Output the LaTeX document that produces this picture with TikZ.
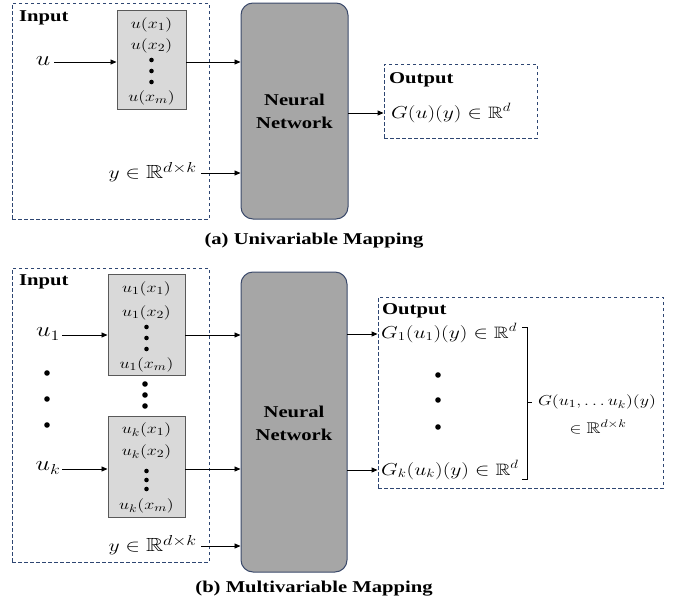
\documentclass[tikz,border=0pt]{standalone}
\usepackage{amsmath,amssymb}
\usepackage{fontspec}
\setmainfont{Liberation Serif}
\usetikzlibrary{arrows.meta}
\newcommand{\sx}[1]{\scalebox{1.25}[1]{#1}}
\definecolor{dashblue}{HTML}{2E4672}
\definecolor{nnfill}{HTML}{A6A6A6}
\definecolor{nnedge}{HTML}{3B4A6B}
\definecolor{boxfill}{HTML}{D9D9D9}
\definecolor{boxedge}{HTML}{595959}
\tikzset{
  dbox/.style={draw=dashblue, dash pattern=on 3.5pt off 2.5pt, line width=0.9pt},
  nnbox/.style={draw=nnedge, fill=nnfill, rounded corners=12pt, line width=1pt, inner sep=0pt},
  vbox/.style={draw=boxedge, fill=boxfill, line width=1pt, inner sep=0pt},
  head/.style={font=\fontsize{16.5}{18}\selectfont\bfseries, inner sep=0pt},
  nntext/.style={font=\fontsize{16.5}{23}\selectfont\bfseries, inner sep=0pt, align=center},
  mt/.style={font=\fontsize{15.5}{17}\selectfont, inner sep=0pt},
  bigm/.style={font=\fontsize{16.5}{19}\selectfont, inner sep=0pt},
  smm/.style={font=\fontsize{15.5}{17}\selectfont, inner sep=0pt},
  lbl/.style={font=\fontsize{20}{22}\selectfont, inner sep=0pt},
  ylbl/.style={font=\fontsize{19}{21}\selectfont, inner sep=0pt},
  arr/.style={-{Triangle[length=6pt,width=5pt]}, line width=0.9pt},
}
\begin{document}
\begin{tikzpicture}[x=1pt,y=-1pt]
\useasboundingbox (0,0) rectangle (681,600);
% ---------- (a) ----------
\node[dbox, minimum width=197pt, minimum height=216pt, inner sep=0pt] (in1) at (110.5,111) {};
\node[head, anchor=west] (inl1) at (19,18) {\sx{Input}};
\node[vbox, minimum width=69pt, minimum height=99pt] (ub1) at (151.5,59.5) {};
\node[mt] (a1) at (151.5,25) {\sx{$u(x_1)$}};
\node[mt] (a2) at (151.5,46) {\sx{$u(x_2)$}};
\fill (151.5,60) circle (2.3pt);
\fill (151.5,71) circle (2.3pt);
\fill (151.5,82) circle (2.3pt);
\node[mt] (am) at (151.5,98) {\sx{$u(x_m)$}};
\node[lbl] (u) at (43,61) {\sx{$u$}};
\node[nnbox, minimum width=107pt, minimum height=216pt] (nn1) at (294.5,111) {};
\node[nntext] (nnt1) at (294.5,111.5) {\sx{Neural}\\\sx{Network}};
\node[ylbl, anchor=east] (y1) at (197,172) {\sx{$y\in\mathbb{R}^{d\times k}$}};
\node[dbox, minimum width=153pt, minimum height=74pt, inner sep=0pt] (out1) at (460.5,101) {};
\node[head, anchor=west] (outl1) at (389,80) {\sx{Output}};
\node[bigm, anchor=west] (g1) at (391,113) {\sx{$G(u)(y)\in\mathbb{R}^{d}$}};
\coordinate (ua) at (54,62);
\draw[arr] (ua) -- (ua -| ub1.west);
\coordinate (ub) at (186,62);
\draw[arr] (ub) -- (ub -| nn1.west);
\coordinate (ya) at (201,173);
\draw[arr] (ya) -- (ya -| nn1.west);
\coordinate (oa) at (348,113);
\draw[arr] (oa) -- (oa -| out1.west);
\node[head] (cap1) at (314,241) {\sx{(a) Univariable Mapping}};
% ---------- (b) ----------
\node[dbox, minimum width=197pt, minimum height=294pt, inner sep=0pt] (in2) at (110.5,415) {};
\node[head, anchor=west] (inl2) at (19,282) {\sx{Input}};
\node[vbox, minimum width=77pt, minimum height=101pt] (ubA) at (146.5,324.5) {};
\node[mt] (b1) at (146.5,289) {\sx{$u_1(x_1)$}};
\node[mt] (b2) at (146.5,313) {\sx{$u_1(x_2)$}};
\fill (146.5,327) circle (2.3pt);
\fill (146.5,338) circle (2.3pt);
\fill (146.5,349) circle (2.3pt);
\node[mt] (bm) at (146.5,365) {\sx{$u_1(x_m)$}};
\fill (145,384) circle (2.8pt);
\fill (145,395) circle (2.8pt);
\fill (145,406) circle (2.8pt);
\node[vbox, minimum width=77pt, minimum height=101pt] (ubB) at (146.5,466.5) {};
\node[mt] (c1) at (146.5,430) {\sx{$u_k(x_1)$}};
\node[mt] (c2) at (146.5,452) {\sx{$u_k(x_2)$}};
\fill (146.5,471) circle (2.3pt);
\fill (146.5,480) circle (2.3pt);
\fill (146.5,489) circle (2.3pt);
\node[mt] (cm) at (146.5,506) {\sx{$u_k(x_m)$}};
\node[lbl] (u1) at (48,334) {\sx{$u_1$}};
\node[lbl] (uk) at (48,468) {\sx{$u_k$}};
\fill (47,373) circle (2.8pt);
\fill (47,399) circle (2.8pt);
\fill (47,425) circle (2.8pt);
\node[nnbox, minimum width=106pt, minimum height=300pt] (nn2) at (294,422) {};
\node[nntext] (nnt2) at (294,423.5) {\sx{Neural}\\\sx{Network}};
\node[ylbl, anchor=east] (y2) at (197,545) {\sx{$y\in\mathbb{R}^{d\times k}$}};
\node[dbox, minimum width=285pt, minimum height=191pt, inner sep=0pt] (out2) at (520.5,392.5) {};
\node[head, anchor=west] (outl2) at (382,311) {\sx{Output}};
\node[bigm, anchor=west] (g21) at (381,333) {\sx{$G_1(u_1)(y)\in\mathbb{R}^{d}$}};
\node[bigm, anchor=west] (g2k) at (381,470) {\sx{$G_k(u_k)(y)\in\mathbb{R}^{d}$}};
\fill (438,375) circle (2.8pt);
\fill (438,400) circle (2.8pt);
\fill (438,427) circle (2.8pt);
\coordinate (br1) at (522,327);
\coordinate (br2) at (522,479);
\coordinate (brm) at (527,402);
\draw[line width=0.9pt] (br1) -- ++(5,0) -- (br2 -| brm) -- (br2);
\draw[line width=0.9pt] (brm) -- ++(5,0);
\node[smm] (gall) at (597,402) {\sx{$G(u_1,\ldots u_k)(y)$}};
\node[smm] (gall2) at (598,427) {\sx{$\in\mathbb{R}^{d\times k}$}};
\coordinate (u1a) at (62,335);
\draw[arr] (u1a) -- (u1a -| ubA.west);
\coordinate (uka) at (62,469);
\draw[arr] (uka) -- (uka -| ubB.west);
\coordinate (A1) at (185,335);
\draw[arr] (A1) -- (A1 -| nn2.west);
\coordinate (B1) at (185,469);
\draw[arr] (B1) -- (B1 -| nn2.west);
\coordinate (y2a) at (201,546);
\draw[arr] (y2a) -- (y2a -| nn2.west);
\coordinate (o1) at (347,334);
\draw[arr] (o1) -- (o1 -| out2.west);
\coordinate (o2) at (347,470);
\draw[arr] (o2) -- (o2 -| out2.west);
\node[head] (cap2) at (314,589) {\sx{(b) Multivariable Mapping}};
\end{tikzpicture}
\end{document}
